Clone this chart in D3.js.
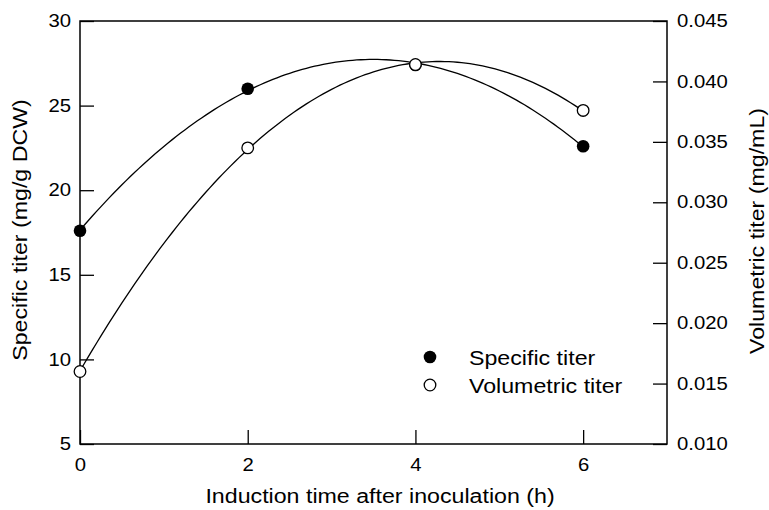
<!DOCTYPE html>
<html lang="en">
<head>
  <meta charset="utf-8" />
  <title>Specific and volumetric titer</title>
  <script src="https://d3js.org/d3.v7.min.js"></script>
  <style>
    body { margin: 0; background: #fff; }
    svg text { font-family: "Liberation Sans", Arial, Helvetica, sans-serif; fill: #000; }
  </style>
</head>
<body>
  <div id="chart"></div>
  <script>
    // Data
    const induction_time = [0, 2, 4, 6];
    const specific_titer = [17.6, 26.0, 27.4, 22.6];          // mg/g DCW, left axis
    const volumetric_titer = [0.0160, 0.0345, 0.0414, 0.0376]; // mg/mL, right axis
    const x_ticks = [0, 2, 4, 6];
    const left_ticks = [5, 10, 15, 20, 25, 30];
    const right_ticks = [0.010, 0.015, 0.020, 0.025, 0.030, 0.035, 0.040, 0.045];

    const W = 769, H = 510;
    const margin = { top: 21, right: 102, bottom: 66, left: 80 };
    const width = W - margin.left - margin.right;
    const height = H - margin.top - margin.bottom;
    const stretch = 1.16; // the original lettering is set wider than Arial

    const svg = d3.select("#chart").append("svg")
      .attr("width", W).attr("height", H);
    const g = svg.append("g")
      .attr("transform", `translate(${margin.left},${margin.top})`);

    const x = d3.scaleLinear().domain([0, 7]).range([0, width]);
    const yL = d3.scaleLinear().domain([5, 30]).range([height, 0]);
    const yR = d3.scaleLinear().domain([0.010, 0.045]).range([height, 0]);

    // widen a text element horizontally around its anchor point
    function widen(sel, s) {
      sel.each(function () {
        const t = d3.select(this);
        const tx = +t.attr("x") || 0, ty = +t.attr("y") || 0;
        t.attr("x", 0).attr("y", 0)
          .attr("transform", `translate(${tx},${ty}) scale(${s},1)`);
      });
    }

    // axes, ticks pointing inward
    const ax = g.append("g").attr("transform", `translate(0,${height})`)
      .call(d3.axisBottom(x).tickValues(x_ticks).tickFormat(d3.format("d"))
        .tickSizeInner(-14).tickSizeOuter(0).tickPadding(15));
    const al = g.append("g")
      .call(d3.axisLeft(yL).tickValues(left_ticks).tickFormat(d3.format("d"))
        .tickSizeInner(-14).tickSizeOuter(0).tickPadding(9));
    const ar = g.append("g").attr("transform", `translate(${width},0)`)
      .call(d3.axisRight(yR).tickValues(right_ticks).tickFormat(d3.format(".3f"))
        .tickSizeInner(-14).tickSizeOuter(0).tickPadding(10));

    [ax, al, ar].forEach(a => {
      a.select(".domain").remove();
      a.selectAll(".tick line").attr("stroke", "#000").attr("stroke-width", 1.3);
      a.selectAll(".tick text").style("font-size", "17.5px");
    });
    ax.selectAll(".tick text").attr("dy", "0.71em");
    widen(ax.selectAll(".tick text"), stretch);
    widen(al.selectAll(".tick text"), stretch);
    widen(ar.selectAll(".tick text"), stretch);

    // frame
    g.append("rect")
      .attr("x", 0).attr("y", 0).attr("width", width).attr("height", height)
      .attr("fill", "none").attr("stroke", "#000").attr("stroke-width", 1.5);

    // least-squares quadratic through the points (the fitted curves in the figure)
    function quadFit(xs, ys) {
      let n = xs.length, s = [0, 0, 0, 0, 0], t = [0, 0, 0];
      for (let i = 0; i < n; i++) {
        for (let k = 0; k < 5; k++) s[k] += Math.pow(xs[i], k);
        for (let k = 0; k < 3; k++) t[k] += ys[i] * Math.pow(xs[i], k);
      }
      const A = [[s[0], s[1], s[2], t[0]], [s[1], s[2], s[3], t[1]], [s[2], s[3], s[4], t[2]]];
      for (let i = 0; i < 3; i++) {
        for (let j = i + 1; j < 3; j++) {
          const f = A[j][i] / A[i][i];
          for (let k = i; k < 4; k++) A[j][k] -= f * A[i][k];
        }
      }
      const c = [0, 0, 0];
      for (let i = 2; i >= 0; i--) {
        let v = A[i][3];
        for (let k = i + 1; k < 3; k++) v -= A[i][k] * c[k];
        c[i] = v / A[i][i];
      }
      return xx => c[0] + c[1] * xx + c[2] * xx * xx;
    }

    const fitS = quadFit(induction_time, specific_titer);
    const fitV = quadFit(induction_time, volumetric_titer);
    const xs = d3.range(0, 6.0001, 0.05);

    const line = d3.line().curve(d3.curveLinear);
    g.append("path")
      .attr("d", line(xs.map(d => [x(d), yL(fitS(d))])))
      .attr("fill", "none").attr("stroke", "#000").attr("stroke-width", 1.3);
    g.append("path")
      .attr("d", line(xs.map(d => [x(d), yR(fitV(d))])))
      .attr("fill", "none").attr("stroke", "#000").attr("stroke-width", 1.3);

    // points
    g.selectAll(".spec").data(induction_time).enter().append("circle")
      .attr("cx", (d) => x(d)).attr("cy", (d, i) => yL(specific_titer[i]))
      .attr("r", 6.3).attr("fill", "#000");
    g.selectAll(".vol").data(induction_time).enter().append("circle")
      .attr("cx", (d) => x(d)).attr("cy", (d, i) => yR(volumetric_titer[i]))
      .attr("r", 5.8).attr("fill", "#fff").attr("stroke", "#000").attr("stroke-width", 1.3);

    // legend
    const legend = svg.append("g");
    legend.append("circle").attr("cx", 430).attr("cy", 357).attr("r", 6.3).attr("fill", "#000");
    legend.append("circle").attr("cx", 430).attr("cy", 385).attr("r", 5.8)
      .attr("fill", "#fff").attr("stroke", "#000").attr("stroke-width", 1.3);
    const lt = legend.selectAll("text").data(["Specific titer", "Volumetric titer"]).enter()
      .append("text")
      .attr("x", 469).attr("y", (d, i) => 365 + i * 28)
      .style("font-size", "20px").text(d => d);
    widen(lt, stretch);

    // axis titles
    svg.append("text")
      .attr("transform", `translate(380,503) scale(${stretch},1)`)
      .attr("text-anchor", "middle").style("font-size", "20px")
      .text("Induction time after inoculation (h)");
    svg.append("text")
      .attr("transform", `translate(27,230) rotate(-90) scale(${stretch},1)`)
      .attr("text-anchor", "middle").style("font-size", "20px")
      .text("Specific titer (mg/g DCW)");
    svg.append("text")
      .attr("transform", `translate(764,231) rotate(-90) scale(${stretch},1)`)
      .attr("text-anchor", "middle").style("font-size", "20px")
      .text("Volumetric titer (mg/mL)");
  </script>
</body>
</html>
